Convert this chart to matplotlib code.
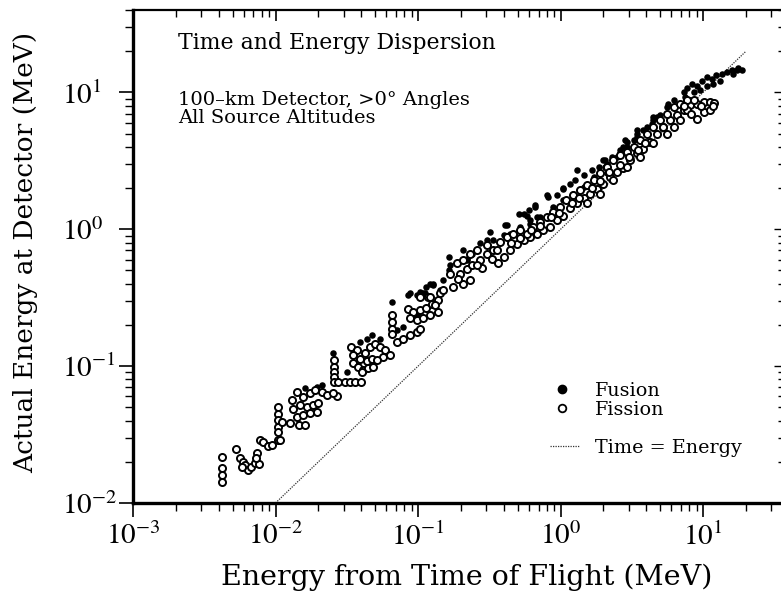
import numpy as np
import matplotlib
matplotlib.use("Agg")
import matplotlib.pyplot as plt
from matplotlib.lines import Line2D
from matplotlib.ticker import LogLocator, FuncFormatter, NullFormatter

# energy from time of flight (MeV) and actual energy at detector (MeV)
fission_x = [0.0042, 0.0042, 0.0042, 0.0042,
             0.0053, 0.0056, 0.0059, 0.0061, 0.0064, 0.0067, 0.0072, 0.0076, 0.0074, 0.0078,
             0.0082, 0.0089, 0.0094, 0.0073, 0.0058,
             0.0104, 0.0104, 0.0104, 0.0104, 0.0104, 0.0104, 0.0111, 0.0108,
             0.013, 0.0141, 0.0155, 0.0175, 0.0189, 0.0212, 0.0229, 0.027, 0.0132, 0.0149,
             0.0166, 0.0184, 0.0199, 0.0141, 0.0155, 0.0175, 0.0194, 0.0126, 0.0145, 0.0161, 0.0255,
             0.0258, 0.0258, 0.0258, 0.0258, 0.0258, 0.0276, 0.0308, 0.0333, 0.0361, 0.0401,
             0.0341, 0.0372, 0.0352, 0.0392, 0.0425, 0.046, 0.0499, 0.0541, 0.0587, 0.0572, 0.0636,
             0.0352, 0.038, 0.0414, 0.0448, 0.0485, 0.0437, 0.0472, 0.0513, 0.0403,
             0.0654, 0.0654, 0.0654, 0.0654, 0.0709, 0.0787, 0.088, 0.0977, 0.103,
             0.0851, 0.0924, 0.103, 0.114, 0.1255, 0.1375, 0.088, 0.0977, 0.109, 0.121, 0.1375, 0.118, 0.132,
             0.103, 0.121, 0.143, 0.177, 0.207, 0.232, 0.197, 0.22, 0.24, 0.272, 0.303, 0.33, 0.361,
             0.398, 0.442, 0.496, 0.55, 0.611, 0.68, 0.756, 0.844, 0.94, 1.04, 1.17, 1.3, 1.45, 1.61,
             1.8, 2.0, 2.22, 2.48, 2.76, 3.08, 3.42, 3.81, 4.25, 4.74, 5.27, 5.87, 6.55, 7.3, 8.11,
             9.04, 10.1, 11.2, 9.04, 10.1, 11.2,
             0.168, 0.187, 0.207, 0.232, 0.258, 0.303, 0.338, 0.376, 0.419, 0.466, 0.52, 0.578, 0.643,
             0.718, 0.80, 0.89, 0.99, 1.1, 1.22, 1.37, 1.53, 1.71, 1.89, 2.11, 2.35, 2.62, 2.92, 3.25,
             3.61, 4.03, 4.48, 4.99, 5.56, 6.2, 6.9, 7.7, 8.6, 7.7, 6.9, 6.2, 5.56, 4.48, 3.61, 2.92,
             2.35, 1.89, 1.53,
             0.28, 0.45, 0.62, 0.85, 1.2, 1.65, 2.2, 3.0, 3.9, 5.2, 7.3, 9.6, 12.0, 11.8, 8.2,
             0.15, 0.19, 0.26, 0.36, 0.52, 0.72, 0.98, 1.35, 1.9, 2.6, 3.5]
fission_y = [0.0217, 0.018, 0.016, 0.0142,
             0.0246, 0.0212, 0.0201, 0.0189, 0.0174, 0.0184, 0.0195, 0.0193, 0.023, 0.0288,
             0.0277, 0.026, 0.0265, 0.0212, 0.0184,
             0.0505, 0.045, 0.0404, 0.036, 0.0332, 0.0288, 0.0393, 0.0288,
             0.0565, 0.065, 0.0597, 0.0632, 0.0668, 0.065, 0.0614, 0.0604, 0.049, 0.0519,
             0.0505, 0.0519, 0.0534, 0.0427, 0.0439, 0.0451, 0.0464, 0.0381, 0.0371, 0.0371, 0.0632,
             0.111, 0.098, 0.09, 0.0826, 0.0761, 0.076, 0.076, 0.076, 0.076, 0.076,
             0.137, 0.131, 0.12, 0.113, 0.124, 0.137, 0.145, 0.137, 0.131, 0.117, 0.12,
             0.106, 0.098, 0.0935, 0.097, 0.098, 0.109, 0.113, 0.111, 0.09,
             0.236, 0.21, 0.188, 0.173, 0.151, 0.159, 0.168, 0.177, 0.188,
             0.262, 0.25, 0.256, 0.268, 0.285, 0.303, 0.223, 0.217, 0.223, 0.236, 0.25, 0.321, 0.279,
             0.321, 0.321, 0.34, 0.38, 0.40, 0.425, 0.474, 0.516, 0.546, 0.594, 0.663, 0.61, 0.565,
             0.63, 0.703, 0.78, 0.832, 0.876, 0.93, 0.984, 1.04, 1.16, 1.26, 1.42, 1.55, 1.68, 1.82,
             1.98, 2.15, 2.41, 2.63, 2.78, 3.19, 3.58, 3.89, 4.37, 5.0, 5.6, 6.25, 6.79, 7.4, 8.04,
             8.27, 8.5, 8.5, 6.4, 7.2, 7.4,
             0.474, 0.565, 0.594, 0.663, 0.703, 0.764, 0.703, 0.81, 0.876, 0.93, 0.984, 0.93, 1.04,
             1.13, 1.23, 1.34, 1.46, 1.63, 1.77, 1.93, 2.09, 2.28, 2.56, 2.85, 3.19, 3.47, 3.67, 4.0,
             4.47, 5.0, 5.6, 6.25, 7.0, 7.8, 8.27, 8.75, 8.75, 7.4, 6.25, 5.6, 5.0, 4.25, 3.37, 2.85,
             2.28, 1.82, 1.55,
             0.52, 0.80, 0.98, 1.22, 1.55, 2.0, 2.6, 3.35, 4.3, 5.6, 7.9, 8.0, 8.3, 7.9, 6.9,
             0.36, 0.43, 0.55, 0.70, 0.86, 1.06, 1.32, 1.68, 2.25, 2.95, 3.8]

fusion_x = [0.0161, 0.0194, 0.0212, 0.0255, 0.0318, 0.0392, 0.0437, 0.0472, 0.0654, 0.0851,
            0.0977, 0.109, 0.121, 0.0709, 0.0787,
            0.164, 0.207, 0.24, 0.32, 0.419, 0.507, 0.662, 0.80, 1.04, 1.30, 1.65, 2.0, 2.05, 2.11,
            2.84, 2.62, 3.42, 4.48, 5.7,
            0.114, 0.127, 0.15, 0.22, 0.272, 0.338, 0.398, 0.52, 0.611, 0.68, 0.89, 1.04, 1.22, 1.45,
            1.71, 2.11, 2.48, 2.92, 3.42, 4.03, 4.74, 5.56, 6.2,
            7.3, 7.7, 8.4, 9.04, 9.8, 10.6, 11.5, 12.4, 13.5, 14.6, 15.9, 17.2, 18.7, 11.8, 13.2,
            10.6, 9.53, 8.6, 7.5, 8.11, 16.3, 17.7,
            0.112, 0.0541, 0.09, 0.098, 0.127, 0.143,
            0.232, 0.408, 0.578, 0.662, 0.088, 0.103, 0.168, 0.164, 0.22, 0.303, 0.442, 0.52,
            0.611, 0.718,
            0.82, 1.04, 1.26, 2.05, 2.62, 2.92, 3.42, 4.48, 4.99, 0.55, 0.60, 0.94, 1.17, 1.45,
            1.85, 2.28, 2.76, 3.25, 3.81, 4.36]
fusion_y = [0.0688, 0.0706, 0.0726, 0.124, 0.09, 0.151, 0.159, 0.168, 0.295, 0.33,
            0.33, 0.34, 0.40, 0.183, 0.193,
            0.63, 0.703, 0.663, 0.96, 1.07, 1.30, 1.50, 1.77, 2.01, 2.70, 2.70, 3.19, 2.85, 2.56,
            4.47, 3.58, 5.28, 6.6, 8.27,
            0.38, 0.40, 0.425, 0.61, 0.79, 0.832, 0.904, 1.04, 1.16, 1.23, 1.46, 1.63, 1.82, 2.03,
            2.41, 3.02, 3.37, 4.0, 4.72, 5.6, 6.6, 7.8, 8.75,
            10.0, 10.8, 11.6, 11.2, 12.2, 12.9, 12.6, 13.3, 13.6, 14.1, 14.5, 14.5, 14.7, 11.5, 12.2,
            11.2, 10.5, 10.0, 9.3, 8.75, 13.6, 15.2,
            0.345, 0.159, 0.23, 0.236, 0.39, 0.359,
            0.663, 1.07, 1.26, 1.46, 0.34, 0.35, 0.546, 0.502, 0.594, 0.832, 0.93, 0.984,
            1.10, 1.23,
            1.72, 1.98, 2.28, 3.19, 3.78, 4.35, 5.0, 6.25, 6.79, 1.30, 1.38, 1.77, 2.15, 2.48,
            2.85, 3.37, 4.0, 4.47, 5.28, 5.9]

# Time = Energy reference line
ref_x = [0.01, 20]
ref_y = [0.01, 20]

plt.rcParams['font.family'] = 'DejaVu Serif'
plt.rcParams['mathtext.fontset'] = 'stix'

fig = plt.figure(figsize=(7.81, 5.98), dpi=100)
ax = fig.add_axes([133 / 781, 95 / 598, 648 / 781, 493 / 598])

ax.plot(ref_x, ref_y, linestyle=(0, (1, 1)), color="0.2", linewidth=0.9)
ax.scatter(fusion_x, fusion_y, s=22, color="black", linewidths=0, zorder=3)
ax.scatter(fission_x, fission_y, s=26, facecolors="white", edgecolors="black",
           linewidths=1.4, zorder=4)

ax.set_xscale("log")
ax.set_yscale("log")
ax.set_xlim(1e-3, 35.2)
ax.set_ylim(1e-2, 40)

fmt = FuncFormatter(lambda v, p: r"$10^{%d}$" % int(round(np.log10(v))))
for axis in (ax.xaxis, ax.yaxis):
    axis.set_major_locator(LogLocator(base=10))
    axis.set_minor_locator(LogLocator(base=10, subs=np.arange(2, 10)))
    axis.set_major_formatter(fmt)
    axis.set_minor_formatter(NullFormatter())

ax.tick_params(which="both", direction="out", top=False, right=False, labelsize=21)
ax.tick_params(which="major", length=10, width=1.2)
ax.tick_params(which="minor", length=6, width=1.0)
ax.tick_params(axis="x", pad=4)
ax.tick_params(axis="y", pad=41)
for lab in ax.get_yticklabels():
    lab.set_horizontalalignment("left")

ax.spines["left"].set_linewidth(2.4)
ax.spines["bottom"].set_linewidth(2.4)
ax.spines["top"].set_linewidth(1.6)
ax.spines["right"].set_visible(False)

# top and right ticks point inward
ax_t = ax.twiny()
ax_t.set_xscale("log")
ax_t.set_xlim(ax.get_xlim())
ax_t.xaxis.set_minor_locator(LogLocator(base=10, subs=np.arange(2, 10)))
ax_t.tick_params(axis="x", which="both", direction="in", top=True, bottom=False,
                 labeltop=False, labelbottom=False)
ax_t.tick_params(axis="x", which="major", length=8, width=1.2)
ax_t.tick_params(axis="x", which="minor", length=5, width=1.0)
ax_r = ax.twinx()
ax_r.set_yscale("log")
ax_r.set_ylim(ax.get_ylim())
ax_r.yaxis.set_minor_locator(LogLocator(base=10, subs=np.arange(2, 10)))
ax_r.tick_params(axis="y", which="both", direction="in", right=True, left=False,
                 labelright=False, labelleft=False)
ax_r.tick_params(axis="y", which="major", length=5, width=1.0)
ax_r.tick_params(axis="y", which="minor", length=2.5, width=1.0)
for a in (ax_t, ax_r):
    for s in a.spines.values():
        s.set_visible(False)

ax.set_xlabel("Energy from Time of Flight (MeV)", fontsize=20.5)
ax.set_ylabel("Actual Energy at Detector (MeV)", fontsize=19)
ax.xaxis.set_label_coords(0.515, -0.122)
ax.yaxis.set_label_coords(-0.147, 0.509)

ax.text(0.069, 0.933, "Time and Energy Dispersion", transform=ax.transAxes,
        fontsize=15.8, va="center", ha="left")
ax.text(0.069, 0.817, "100\u2013km Detector, >0\u00b0 Angles", transform=ax.transAxes,
        fontsize=14, va="center", ha="left")
ax.text(0.069, 0.781, "All Source Altitudes", transform=ax.transAxes,
        fontsize=14, va="center", ha="left")

h1 = [Line2D([], [], marker="o", linestyle="none", markersize=6, color="black"),
      Line2D([], [], marker="o", linestyle="none", markersize=5.5, markerfacecolor="white",
             markeredgecolor="black", markeredgewidth=1.3)]
leg1 = ax.legend(h1, ["Fusion", "Fission"], loc="center left", bbox_to_anchor=(0.648, 0.208),
                 frameon=False, fontsize=13.8, handlelength=1.0, handletextpad=1.2,
                 labelspacing=0.05, borderpad=0, borderaxespad=0)
ax.add_artist(leg1)
h2 = [Line2D([], [], linestyle=(0, (1, 1)), color="0.2", linewidth=0.9)]
ax.legend(h2, ["Time = Energy"], loc="center left", bbox_to_anchor=(0.644, 0.112),
          frameon=False, fontsize=13.8, handlelength=1.5, handletextpad=0.85,
          borderpad=0, borderaxespad=0)

fig.savefig("out.png", dpi=100)
